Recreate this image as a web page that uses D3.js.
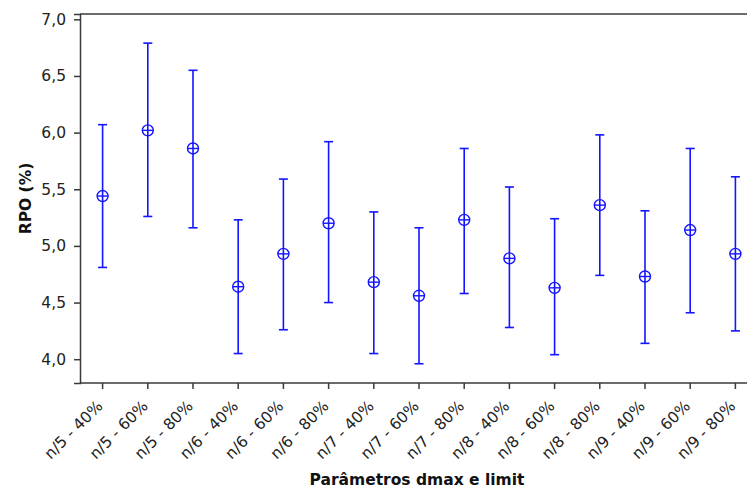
<!DOCTYPE html>
<html>
<head>
<meta charset="utf-8">
<script src="https://cdn.jsdelivr.net/npm/d3@7"></script>
<style>
  body { margin: 0; background: #fff; }
  svg { display: block; }
</style>
</head>
<body>
<div id="chart"></div>
<script>
var categories = ['n/5 - 40%', 'n/5 - 60%', 'n/5 - 80%',
  'n/6 - 40%', 'n/6 - 60%', 'n/6 - 80%',
  'n/7 - 40%', 'n/7 - 60%', 'n/7 - 80%',
  'n/8 - 40%', 'n/8 - 60%', 'n/8 - 80%',
  'n/9 - 40%', 'n/9 - 60%', 'n/9 - 80%']

var means = [5.44, 6.02, 5.86, 4.64, 4.93, 5.20, 4.68, 4.56, 5.23, 4.89, 4.63, 5.36, 4.73, 5.14, 4.93]
var upper = [6.07, 6.79, 6.55, 5.23, 5.59, 5.92, 5.30, 5.16, 5.86, 5.52, 5.24, 5.98, 5.31, 5.86, 5.61]
var lower = [4.81, 5.26, 5.16, 4.05, 4.26, 4.50, 4.05, 3.96, 4.58, 4.28, 4.04, 4.74, 4.14, 4.41, 4.25]

var yTicks = [4.0, 4.5, 5.0, 5.5, 6.0, 6.5, 7.0]

var xTitle = 'Parâmetros dmax e limit'
var yTitle = 'RPO (%)'

var width = 747, height = 491
var margin = {top: 14, left: 80, bottom: 108}
var blue = '#1414ff'
var axisColor = '#3a3a3a'
var tickFont = '15.5px'

var data = categories.map(function(c, i) {
    return {name: c, mean: means[i], hi: upper[i], lo: lower[i]}
})

var svg = d3.select('#chart')
  .append('svg')
    .attr('width', width)
    .attr('height', height)
    .style('font-family', '"DejaVu Sans", Verdana, sans-serif')

// scales (plot runs past the right edge, like the original)
var x = d3.scaleBand()
    .domain(categories)
    .range([margin.left, 758])

var y = d3.scaleLinear()
    .domain([3.79, 7.047])
    .range([height - margin.bottom, margin.top])

// top frame line
svg.append('line')
    .attr('x1', margin.left).attr('x2', width)
    .attr('y1', margin.top).attr('y2', margin.top)
    .attr('stroke', axisColor)
    .attr('stroke-width', 1.5)

// Y axis
var yAxis = svg.append('g')
    .attr('transform', 'translate(' + margin.left + ',0)')
    .call(d3.axisLeft(y).tickValues(yTicks).tickSize(6).tickPadding(8)
        .tickFormat(function(d) { return d3.format('.1f')(d).replace('.', ',') }))
yAxis.attr('font-size', null).attr('font-family', null)
yAxis.selectAll('.domain, line').attr('stroke', axisColor).attr('stroke-width', 1.5)
yAxis.selectAll('text')
    .attr('fill', '#222')
    .style('font-size', tickFont)

// X axis
var xAxis = svg.append('g')
    .attr('transform', 'translate(0,' + (height - margin.bottom) + ')')
    .call(d3.axisBottom(x).tickSize(6).tickSizeOuter(0))
xAxis.attr('font-size', null).attr('font-family', null)
xAxis.selectAll('.domain, line').attr('stroke', axisColor).attr('stroke-width', 1.5)
xAxis.select('.domain').attr('d', 'M' + margin.left + ',0H' + width)
xAxis.selectAll('text')
    .attr('x', 0).attr('y', 0).attr('dy', 0)
    .attr('text-anchor', 'end')
    .attr('transform', 'translate(1,24) rotate(-45)')
    .attr('fill', '#222')
    .style('font-size', tickFont)

// titles
svg.append('text')
    .attr('text-anchor', 'middle')
    .attr('x', 417)
    .attr('y', 485)
    .attr('fill', '#111')
    .style('font-weight', 'bold')
    .style('font-size', '15.5px')
    .text(xTitle)

svg.append('text')
    .attr('text-anchor', 'middle')
    .attr('transform', 'translate(30.5,' + ((margin.top + height - margin.bottom) / 2) + ') rotate(-90)')
    .attr('fill', '#111')
    .style('font-weight', 'bold')
    .style('font-size', '15.5px')
    .text(yTitle)

var cx = function(d) { return x(d.name) + x.bandwidth() / 2 }

// interval lines
svg.selectAll('vertLines')
    .data(data)
    .enter()
    .append('line')
    .attr('x1', cx).attr('x2', cx)
    .attr('y1', function(d) { return y(d.lo) })
    .attr('y2', function(d) { return y(d.hi) })
    .attr('stroke', blue)
    .attr('stroke-width', 1.6)

// caps
;['hi', 'lo'].forEach(function(k) {
    svg.selectAll('caps' + k)
        .data(data)
        .enter()
        .append('line')
        .attr('x1', function(d) { return cx(d) - 4.5 })
        .attr('x2', function(d) { return cx(d) + 4.5 })
        .attr('y1', function(d) { return y(d[k]) })
        .attr('y2', function(d) { return y(d[k]) })
        .attr('stroke', blue)
        .attr('stroke-width', 1.6)
})

// mean symbol: circle with a cross
svg.selectAll('meanDots')
    .data(data)
    .enter()
    .append('circle')
    .attr('cx', cx)
    .attr('cy', function(d) { return y(d.mean) })
    .attr('r', 5.5)
    .attr('fill', 'none')
    .attr('stroke', blue)
    .attr('stroke-width', 1.4)

svg.selectAll('meanCross')
    .data(data)
    .enter()
    .append('line')
    .attr('x1', function(d) { return cx(d) - 5.5 })
    .attr('x2', function(d) { return cx(d) + 5.5 })
    .attr('y1', function(d) { return y(d.mean) })
    .attr('y2', function(d) { return y(d.mean) })
    .attr('stroke', blue)
    .attr('stroke-width', 1.4)
</script>
</body>
</html>
